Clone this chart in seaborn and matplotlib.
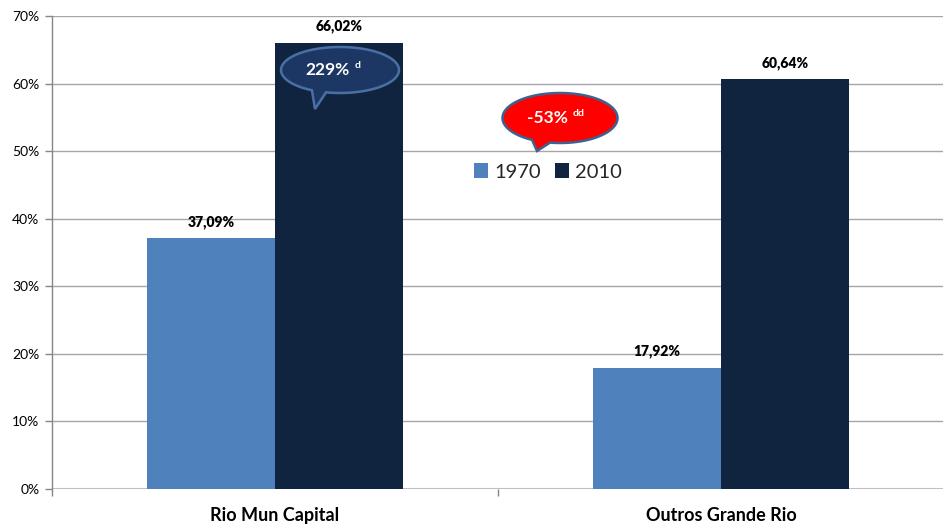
import numpy as np
import pandas as pd
import matplotlib
matplotlib.use("Agg")
import matplotlib.pyplot as plt
import matplotlib.transforms as mtransforms
from matplotlib.patches import Polygon
import seaborn as sns

# ---- data ----
categories = ["Rio Mun Capital", "Outros Grande Rio"]
years = ["1970", "2010"]
values_1970 = [37.09, 17.92]
values_2010 = [66.02, 60.64]
callout_texts = ["229%", "-53%"]
callout_sups = ["d", "dd"]
y_ticks = [0, 10, 20, 30, 40, 50, 60, 70]

df = pd.DataFrame({
    "categoria": categories * 2,
    "ano": [years[0]] * 2 + [years[1]] * 2,
    "valor": values_1970 + values_2010,
})

sns.set_theme(style="white")
plt.rcParams["font.family"] = ["Lato", "DejaVu Sans"]

W, H = 943, 526
fig = plt.figure(figsize=(W / 100, H / 100), dpi=100)
ax = fig.add_axes([52 / W, 1 - 489 / H, 892 / W, 473 / H])

palette = {"1970": "#4f81bd", "2010": "#10243f"}
sns.barplot(data=df, x="categoria", y="valor", hue="ano", order=categories,
            hue_order=years, palette=palette, width=0.574, saturation=1,
            ax=ax, zorder=3, edgecolor="none", linewidth=0)

ax.set_xlim(-0.5, 1.5)
ax.set_ylim(0, 70)
ax.set_yticks(y_ticks)
ax.set_yticklabels([f"{t}%" for t in y_ticks], fontsize=10, color="#000000")
ax.yaxis.grid(True, color="#a6a6a6", linewidth=1, zorder=0)
ax.set_axisbelow(True)
ax.set_xlabel("")
ax.set_ylabel("")
ax.set_xticks([0, 1])
ax.set_xticklabels(categories, fontsize=13, fontweight="bold", color="#000000")
ax.tick_params(axis="x", length=0, pad=13)
ax.tick_params(axis="y", length=5, width=1, color="#868686", left=True, pad=4)
# category boundary tick marks
ax.set_xticks([-0.5, 0.5, 1.5], minor=True)
ax.tick_params(axis="x", which="minor", length=5, width=1, color="#868686", bottom=True)

for s in ["top", "right", "bottom"]:
    ax.spines[s].set_visible(False)
ax.spines["left"].set_color("#868686")
ax.spines["left"].set_linewidth(1)
ax.axhline(0, color="#bfbfbf", linewidth=1.5, zorder=2)

# bar value labels
for cont in ax.containers:
    ax.bar_label(cont, labels=[f"{v:.2f}%".replace(".", ",") for v in cont.datavalues],
                 fontsize=10, fontweight="heavy", padding=7, color="#000000")

# legend
leg = ax.legend(loc="center", bbox_to_anchor=(548 / W, 1 - 172 / H),
                bbox_transform=fig.transFigure, ncol=2, frameon=False,
                fontsize=14.5, handlelength=0.7, handleheight=0.7,
                handletextpad=0.3, columnspacing=0.7)

# callouts (speech bubbles), positioned in axes fraction, shapes in pixel offsets
def callout(fx, fy, w, h, a1, a2, tip, face, edge, text, sup, tdx):
    tr = (mtransforms.Affine2D().scale(1 / 100) + fig.dpi_scale_trans
          + mtransforms.ScaledTranslation(fx, fy, ax.transAxes))
    th = np.radians(np.linspace(a2, a1 + 360, 200))
    pts = np.column_stack([w / 2 * np.cos(th), h / 2 * np.sin(th)])
    pts = np.vstack([pts, [tip]])
    poly = Polygon(pts, closed=True, facecolor=face, edgecolor=edge,
                   linewidth=1.8, transform=tr, zorder=6, clip_on=False)
    ax.add_patch(poly)
    ax.text(tdx, 0, text, transform=tr, ha="right", va="center", color="white",
            fontsize=12.5, fontweight="bold", zorder=7)
    ax.text(tdx + 5, 4, sup, transform=tr, ha="left", va="center", color="white",
            fontsize=7.5, fontweight="bold", zorder=7)

callout(288 / 892, 419 / 473, 118, 46, 241.6, 256.3, (-25, -39),
        "#1c3763", "#4a6fa5", callout_texts[0], callout_sups[0], 10)
callout(508 / 892, 371 / 473, 115, 50, 240.9, 260.0, (-23, -33),
        "#ff0000", "#3d6290", callout_texts[1], callout_sups[1], 8)

fig.savefig("out.png", dpi=100)
